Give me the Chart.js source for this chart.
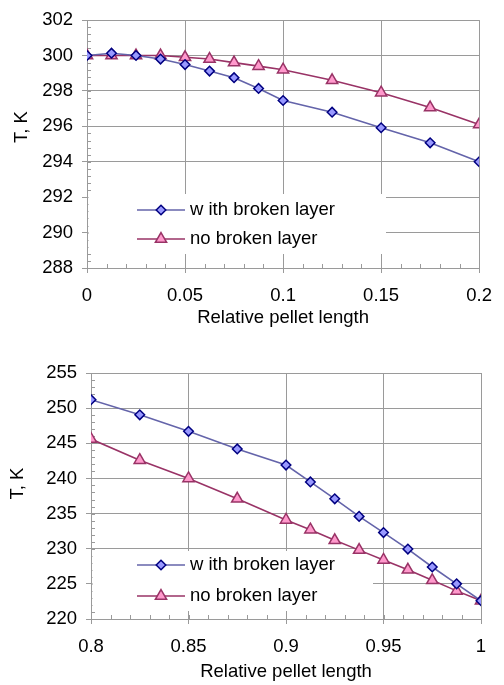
<!DOCTYPE html>
<html>
<head>
<meta charset="utf-8">
<script src="https://cdn.jsdelivr.net/npm/chart.js@4.4.1/dist/chart.umd.min.js"></script>
<style>
  html, body { margin: 0; padding: 0; background: #ffffff; }
  body { width: 504px; height: 685px; position: relative; overflow: hidden; }
  canvas { position: absolute; left: 0; display: block; }
  #c1 { top: 0; }
  #c2 { top: 340px; }
</style>
</head>
<body>
<canvas id="c1" width="504" height="340" style="width:504px;height:340px"></canvas>
<canvas id="c2" width="504" height="345" style="width:504px;height:345px"></canvas>
<script>
// ---------- DATA ----------
const seriesLabels = ['w ith broken layer', 'no broken layer'];
const yTitle = 'T, K';
const xTitle = 'Relative pellet length';

// top chart
const topX = [0, 0.0125, 0.025, 0.0375, 0.05, 0.0625, 0.075, 0.0875, 0.1, 0.125, 0.15, 0.175, 0.2];
const topWith = [300.0, 300.13, 300.0, 299.8, 299.49, 299.12, 298.75, 298.14, 297.46, 296.8, 295.92, 295.07, 294.0];
const topNo = [300.0, 300.0, 300.0, 300.0, 299.9, 299.8, 299.6, 299.4, 299.2, 298.6, 297.9, 297.06, 296.1];
const topXTicks = [0, 0.05, 0.1, 0.15, 0.2];
const topXTickLabels = ['0', '0.05', '0.1', '0.15', '0.2'];
const topYTicks = [288, 290, 292, 294, 296, 298, 300, 302];

// bottom chart
const botX = [0.8, 0.825, 0.85, 0.875, 0.9, 0.9125, 0.925, 0.9375, 0.95, 0.9625, 0.975, 0.9875, 1.0];
const botWith = [251.2, 249.05, 246.7, 244.2, 241.9, 239.5, 237.1, 234.6, 232.3, 229.95, 227.4, 225.0, 222.6];
const botNo = [245.6, 242.6, 240.0, 237.1, 234.1, 232.7, 231.2, 229.8, 228.4, 227.0, 225.5, 224.0, 222.6];
const botXTicks = [0.8, 0.85, 0.9, 0.95, 1.0];
const botXTickLabels = ['0.8', '0.85', '0.9', '0.95', '1'];
const botYTicks = [220, 225, 230, 235, 240, 245, 250, 255];

// ---------- STYLE ----------
const FONT = "'Liberation Sans', Arial, sans-serif";
const FSIZE = 18.5;
const GRID = '#9a9a9a';
const styles = [
  { line: '#6464aa', fill: '#9999ff', border: '#000080', point: 'rectRot', r: 4.8 },
  { line: '#993366', fill: '#ff99cc', border: '#993366', point: 'triangle', r: 6.5 }
];

function pairs(xs, ys) { return xs.map((x, i) => ({ x: x, y: ys[i] })); }

const minorTicksPlugin = {
  id: 'minorTicks',
  beforeDatasetsDraw(chart, args, opts) {
    const ctx = chart.ctx, xs = chart.scales.x, ys = chart.scales.y;
    const a = chart.chartArea;
    ctx.save();
    ctx.strokeStyle = GRID;
    ctx.lineWidth = 1;
    ctx.beginPath();
    const nx = Math.round((xs.max - xs.min) / opts.x);
    for (let i = 1; i < nx; i++) {
      const px = Math.round(xs.getPixelForValue(xs.min + i * opts.x)) + 0.5;
      ctx.moveTo(px, a.bottom);
      ctx.lineTo(px, a.bottom - 4);
    }
    const ny = Math.round((ys.max - ys.min) / opts.y);
    for (let i = 1; i < ny; i++) {
      const py = Math.round(ys.getPixelForValue(ys.min + i * opts.y)) + 0.5;
      ctx.moveTo(a.left, py);
      ctx.lineTo(a.left + 4, py);
    }
    ctx.stroke();
    ctx.restore();
  }
};

const boxLegendPlugin = {
  id: 'boxLegend',
  beforeDatasetsDraw(chart, args, opts) {
    const ctx = chart.ctx;
    const a = chart.chartArea;
    ctx.save();
    ctx.fillStyle = '#ffffff';
    const left = a.left + 1.5;
    ctx.fillRect(left, opts.top, opts.right - left, opts.height);
    chart.data.datasets.forEach((ds, i) => {
      const y = opts.rows[i];
      ctx.strokeStyle = ds.borderColor;
      ctx.lineWidth = ds.borderWidth;
      ctx.beginPath();
      ctx.moveTo(opts.x1, y);
      ctx.lineTo(opts.x2, y);
      ctx.stroke();
      ctx.fillStyle = ds.pointBackgroundColor;
      ctx.strokeStyle = ds.pointBorderColor;
      ctx.lineWidth = ds.pointBorderWidth;
      Chart.helpers.drawPoint(ctx, { pointStyle: ds.pointStyle, radius: ds.pointRadius, rotation: 0, borderWidth: ds.pointBorderWidth }, (opts.x1 + opts.x2) / 2, y);
      ctx.fillStyle = '#000000';
      ctx.font = FSIZE + 'px ' + FONT;
      ctx.textBaseline = 'middle';
      ctx.textAlign = 'left';
      ctx.fillText(ds.label, opts.textX, y);
    });
    ctx.restore();
  }
};

const yTitlePlugin = {
  id: 'yTitle',
  afterDraw(chart, args, opts) {
    const ctx = chart.ctx;
    ctx.save();
    ctx.translate(opts.x, opts.y);
    ctx.rotate(-Math.PI / 2);
    ctx.fillStyle = '#000000';
    ctx.font = FSIZE + 'px ' + FONT;
    ctx.textAlign = 'center';
    ctx.textBaseline = 'middle';
    ctx.fillText(yTitle, 0, 0);
    ctx.restore();
  }
};

function makeChart(id, cfg) {
  const datasets = [cfg.sWith, cfg.sNo].map((ys, i) => ({
    label: seriesLabels[i],
    data: pairs(cfg.xs, ys),
    borderColor: styles[i].line,
    borderWidth: 1.6,
    pointStyle: styles[i].point,
    pointRadius: styles[i].r,
    pointHoverRadius: styles[i].r,
    pointBackgroundColor: styles[i].fill,
    pointBorderColor: styles[i].border,
    pointBorderWidth: 1.5,
    tension: 0,
    fill: false
  }));
  return new Chart(document.getElementById(id), {
    type: 'line',
    data: { datasets: datasets },
    plugins: [minorTicksPlugin, boxLegendPlugin, yTitlePlugin],
    options: {
      responsive: false,
      animation: false,
      devicePixelRatio: 1,
      layout: { padding: { left: 0, right: cfg.padRight, top: cfg.padTop, bottom: 0 } },
      plugins: {
        legend: { display: false },
        tooltip: { enabled: false },
        minorTicks: cfg.minor,
        boxLegend: cfg.legend,
        yTitle: cfg.yTitlePos
      },
      scales: {
        x: {
          type: 'linear',
          min: cfg.xTicks[0],
          max: cfg.xTicks[cfg.xTicks.length - 1],
          afterBuildTicks: s => { s.ticks = cfg.xTicks.map(v => ({ value: v })); },
          afterFit: s => { s.height = cfg.xHeight; },
          ticks: {
            autoSkip: false,
            maxRotation: 0,
            padding: cfg.xTickPad,
            color: '#000000',
            font: { family: FONT, size: FSIZE },
            callback: (v, i) => cfg.xLabels[i]
          },
          grid: { color: GRID, lineWidth: 1, tickLength: 5, drawTicks: true },
          border: { display: true, color: GRID, width: 1 },
          title: {
            display: true,
            text: xTitle,
            color: '#000000',
            font: { family: FONT, size: FSIZE },
            padding: { top: 0, bottom: cfg.xTitlePad }
          }
        },
        y: {
          type: 'linear',
          min: cfg.yTicks[0],
          max: cfg.yTicks[cfg.yTicks.length - 1],
          afterBuildTicks: s => { s.ticks = cfg.yTicks.map(v => ({ value: v })); },
          afterFit: s => { s.width = cfg.yWidth; },
          ticks: {
            autoSkip: false,
            padding: 9,
            color: '#000000',
            font: { family: FONT, size: FSIZE },
            callback: v => String(v)
          },
          grid: { color: GRID, lineWidth: 1, tickLength: 5, drawTicks: true },
          border: { display: true, color: GRID, width: 1 }
        }
      }
    }
  });
}

makeChart('c1', {
  xs: topX, sWith: topWith, sNo: topNo,
  xTicks: topXTicks, xLabels: topXTickLabels, yTicks: topYTicks,
  padRight: 23, padTop: 14, yWidth: 87, xHeight: 72, xTickPad: 12, xTitlePad: 11,
  minor: { x: 0.01, y: 0.4 },
  legend: { top: 194, right: 386, height: 60, rows: [210, 239], x1: 137, x2: 185, textX: 190 },
  yTitlePos: { x: 22, y: 127 }
});

makeChart('c2', {
  xs: botX, sWith: botWith, sNo: botNo,
  xTicks: botXTicks, xLabels: botXTickLabels, yTicks: botYTicks,
  padRight: 23, padTop: 33, yWidth: 91, xHeight: 66, xTickPad: 12, xTitlePad: 2,
  minor: { x: 0.01, y: 1 },
  legend: { top: 211, right: 373, height: 60, rows: [225, 256], x1: 137, x2: 185, textX: 190 },
  yTitlePos: { x: 17.5, y: 143.5 }
});
</script>
</body>
</html>
